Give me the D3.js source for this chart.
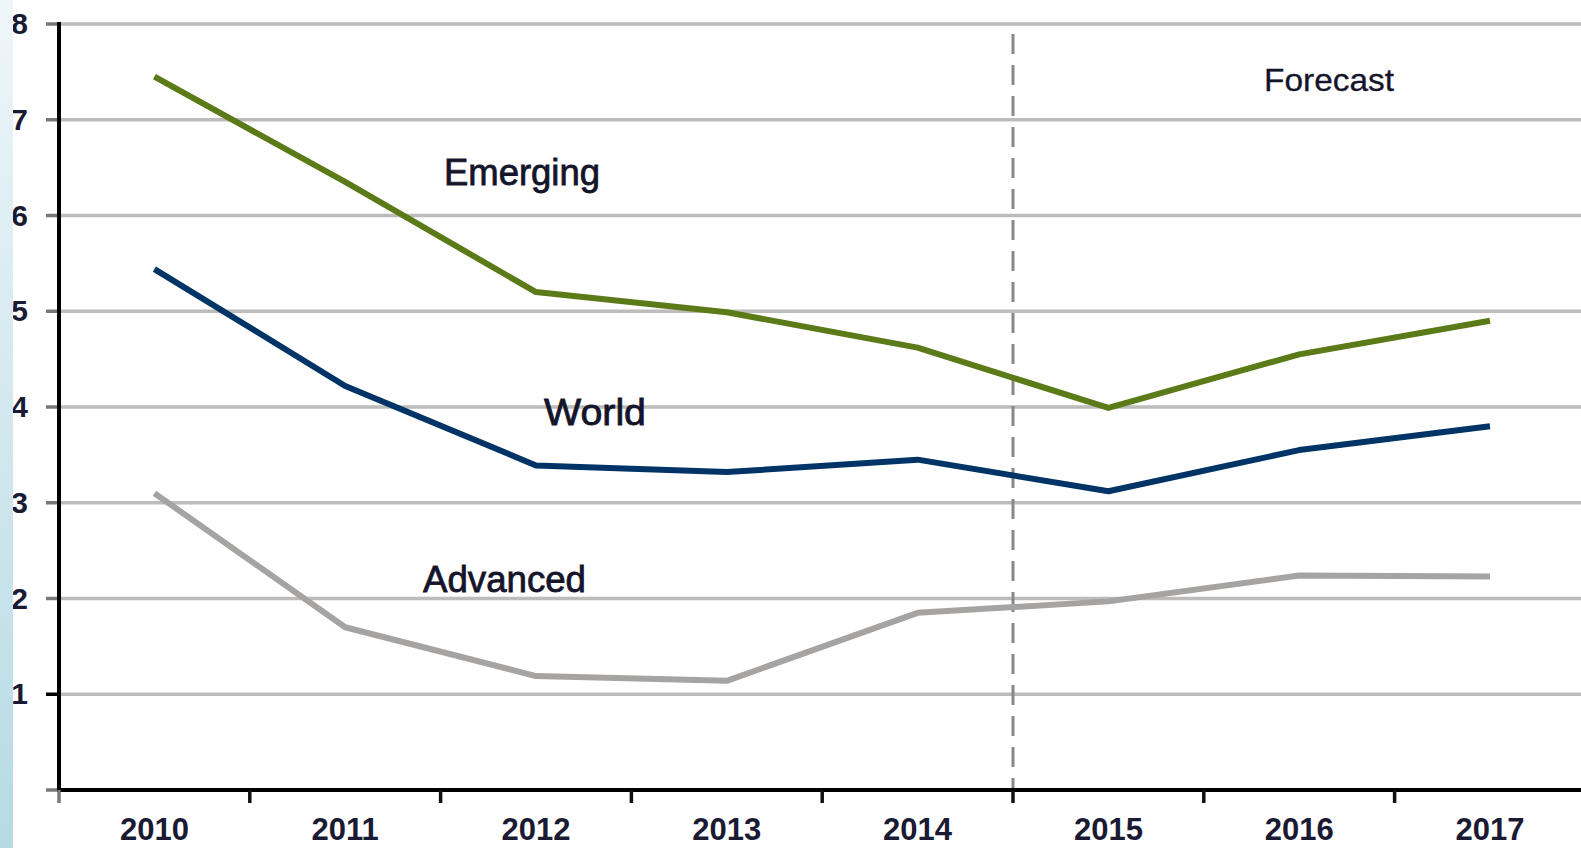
<!DOCTYPE html>
<html>
<head>
<meta charset="utf-8">
<script src="https://cdn.jsdelivr.net/npm/d3@7"></script>
<style>
  html, body { margin: 0; padding: 0; background: #fff; overflow: hidden; }
  svg { display: block; }
</style>
</head>
<body>
<svg id="chart" width="1581" height="848"></svg>
<script>
// -------------------- DATA --------------------
const years = ["2010", "2011", "2012", "2013", "2014", "2015", "2016", "2017"];
const emerging = [7.45, 6.35, 5.2, 4.99, 4.62, 3.99, 4.55, 4.9];
const world = [5.44, 4.22, 3.39, 3.32, 3.45, 3.12, 3.55, 3.8];
const advanced = [3.1, 1.7, 1.19, 1.14, 1.85, 1.97, 2.24, 2.23];
const yTicks = [1, 2, 3, 4, 5, 6, 7, 8];
const forecastStart = "2015";

// -------------------- SETUP --------------------
const W = 1581, H = 848;
const plotLeft = 59, plotTop = 24, plotBottom = 790;
const band = 190.8;

const svg = d3.select("#chart");

const x = d3.scaleBand()
  .domain(years)
  .range([plotLeft, plotLeft + band * years.length])
  .padding(0);

const y = d3.scaleLinear()
  .domain([0, 8])
  .range([plotBottom, plotTop]);

// left strip gradient
const defs = svg.append("defs");
const grad = defs.append("linearGradient")
  .attr("id", "strip")
  .attr("x1", 0).attr("y1", 0).attr("x2", 0).attr("y2", 1);
grad.append("stop").attr("offset", "0%").attr("stop-color", "#eef6f9");
grad.append("stop").attr("offset", "100%").attr("stop-color", "#b6dae4");

// -------------------- GRID --------------------
svg.append("g")
  .selectAll("line")
  .data(yTicks)
  .enter()
  .append("line")
  .attr("x1", plotLeft)
  .attr("x2", W)
  .attr("y1", d => y(d))
  .attr("y2", d => y(d))
  .attr("stroke", "#bdbcba")
  .attr("stroke-width", 3.5);

// y tick stubs
svg.append("g")
  .selectAll("line")
  .data([0].concat(yTicks))
  .enter()
  .append("line")
  .attr("x1", 46)
  .attr("x2", plotLeft)
  .attr("y1", d => y(d))
  .attr("y2", d => y(d))
  .attr("stroke", d => d === 1 ? "#000" : "#777")
  .attr("stroke-width", 3.5);

// y labels
svg.append("g")
  .selectAll("text")
  .data(yTicks)
  .enter()
  .append("text")
  .attr("x", 28)
  .attr("y", d => y(d) + 10)
  .attr("text-anchor", "end")
  .style("font-family", "'Liberation Sans', Arial, sans-serif")
  .style("font-weight", "bold")
  .style("font-size", "30px")
  .attr("fill", "#1a1a33")
  .text(d => d);

// forecast divider
svg.append("line")
  .attr("x1", x(forecastStart))
  .attr("x2", x(forecastStart))
  .attr("y1", 34)
  .attr("y2", plotBottom)
  .attr("stroke", "#888")
  .attr("stroke-width", 3)
  .attr("stroke-dasharray", "20,11");

// -------------------- AXES --------------------
svg.append("line")
  .attr("x1", plotLeft).attr("x2", plotLeft)
  .attr("y1", plotTop - 2).attr("y2", plotBottom + 2)
  .attr("stroke", "#000").attr("stroke-width", 4);

svg.append("line")
  .attr("x1", plotLeft - 2).attr("x2", W)
  .attr("y1", plotBottom).attr("y2", plotBottom)
  .attr("stroke", "#000").attr("stroke-width", 4);

// x ticks at band edges
svg.append("g")
  .selectAll("line")
  .data(years)
  .enter()
  .append("line")
  .attr("x1", d => x(d))
  .attr("x2", d => x(d))
  .attr("y1", plotBottom)
  .attr("y2", 803)
  .attr("stroke", (d, i) => i === 0 ? "#777" : "#111")
  .attr("stroke-width", 3.5);

// x labels
svg.append("g")
  .selectAll("text")
  .data(years)
  .enter()
  .append("text")
  .attr("x", d => x(d) + x.bandwidth() / 2)
  .attr("y", 840)
  .attr("text-anchor", "middle")
  .style("font-family", "'Liberation Sans', Arial, sans-serif")
  .style("font-weight", "bold")
  .style("font-size", "31px")
  .attr("fill", "#1a1a33")
  .text(d => d);

// -------------------- LINES --------------------
const line = d3.line()
  .x((d, i) => x(years[i]) + x.bandwidth() / 2)
  .y(d => y(d));

const series = [
  { values: advanced, color: "#a5a4a2" },
  { values: world, color: "#003466" },
  { values: emerging, color: "#5b7a18" }
];

svg.append("g")
  .selectAll("path")
  .data(series)
  .enter()
  .append("path")
  .attr("d", d => line(d.values))
  .attr("fill", "none")
  .attr("stroke", d => d.color)
  .attr("stroke-width", 6)
  .attr("stroke-linejoin", "round");

// -------------------- LABELS --------------------
const labels = [
  { text: "Emerging", x: 444, y: 185, size: 36, len: 156 },
  { text: "World", x: 544, y: 425, size: 36, len: 102 },
  { text: "Advanced", x: 423, y: 592, size: 36, len: 163 },
  { text: "Forecast", x: 1264, y: 91, size: 32, len: 130 }
];

svg.append("g")
  .selectAll("text")
  .data(labels)
  .enter()
  .append("text")
  .attr("x", d => d.x)
  .attr("y", d => d.y)
  .attr("textLength", d => d.len)
  .attr("lengthAdjust", "spacingAndGlyphs")
  .style("font-family", "'Liberation Sans', Arial, sans-serif")
  .style("font-size", d => d.size + "px")
  .attr("fill", "#14142b")
  .attr("stroke", "#14142b")
  .attr("stroke-width", d => d.text === "Forecast" ? 0.3 : 0.8)
  .text(d => d.text);

// left strip
svg.append("rect")
  .attr("x", 0).attr("y", 0)
  .attr("width", 13).attr("height", H)
  .attr("fill", "url(#strip)");
</script>
</body>
</html>
